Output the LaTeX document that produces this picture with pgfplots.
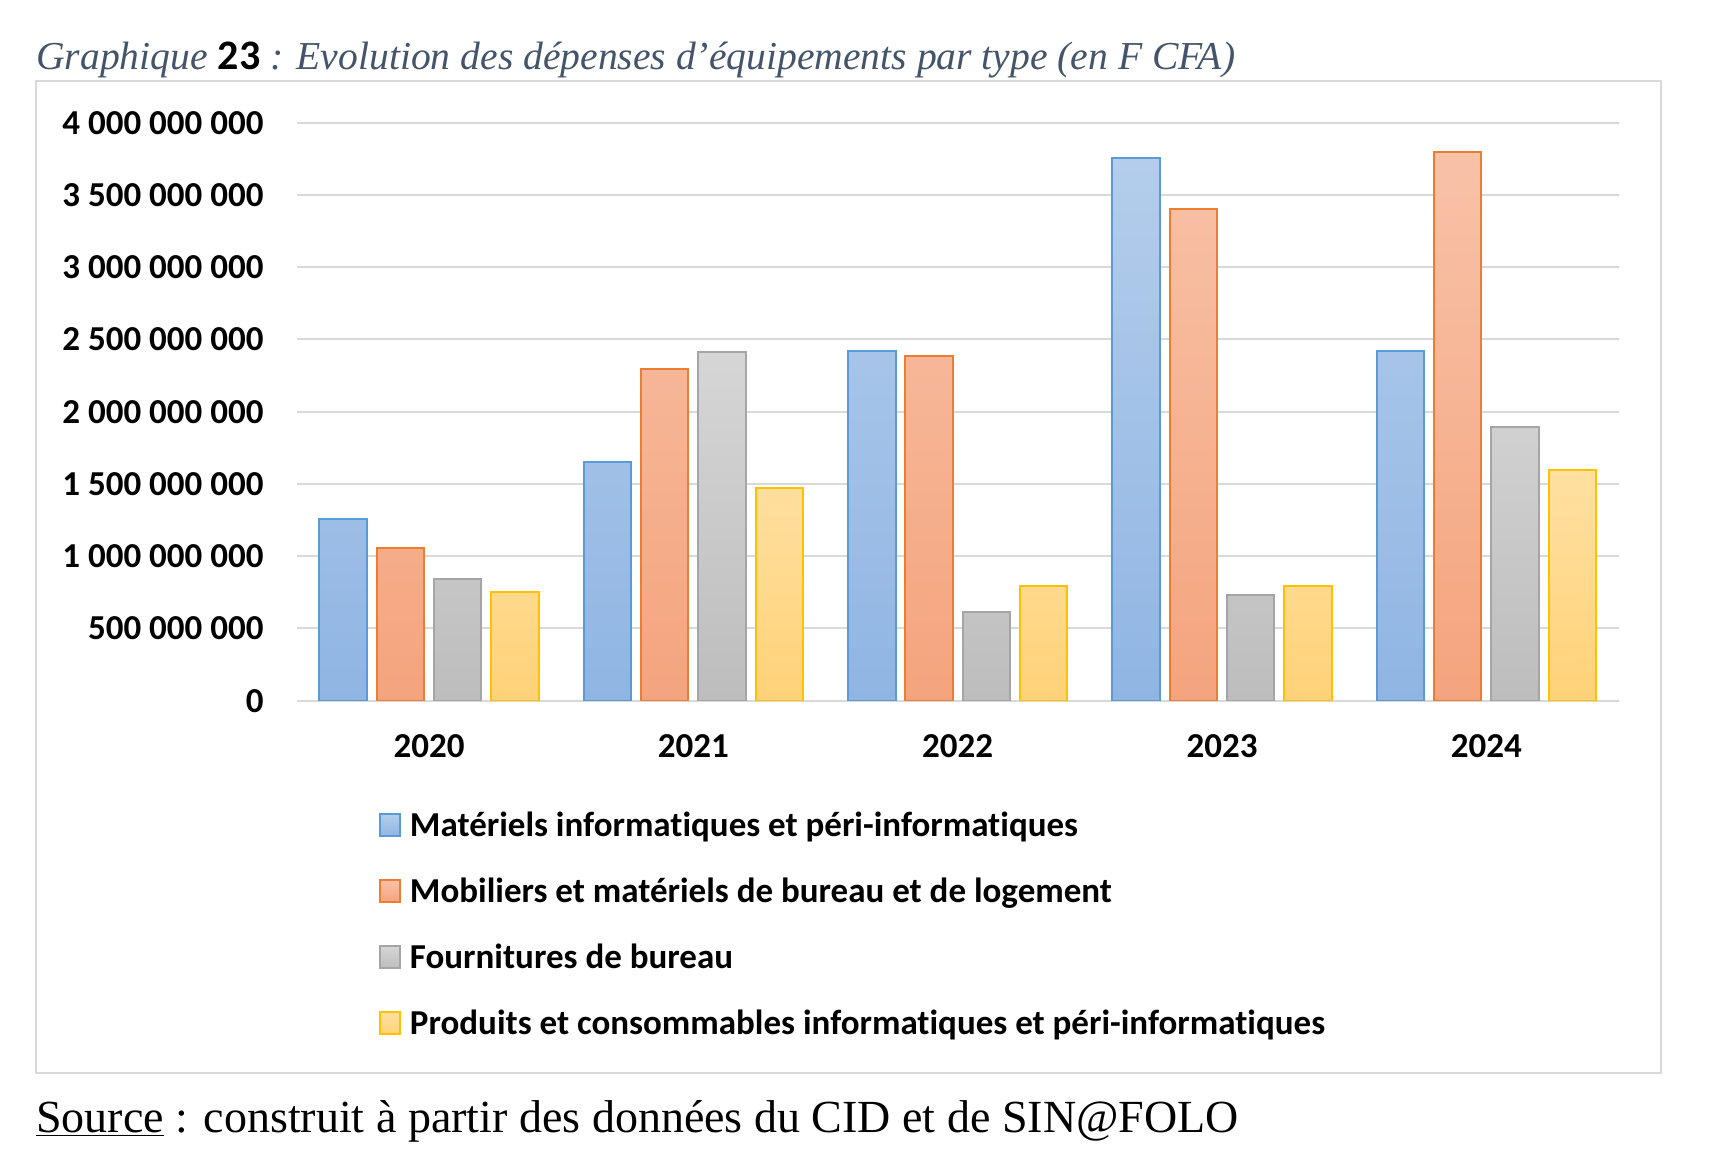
\documentclass[border=0pt]{standalone}
\usepackage{fontspec}
\setmainfont{Liberation Serif}
\newfontfamily\carlito[Ligatures=NoCommon]{Carlito}
\usepackage{pgfplots}
\pgfplotsset{compat=1.18}
\definecolor{gridg}{HTML}{D9D9D9}
\definecolor{titlec}{HTML}{44546A}
\definecolor{bluebd}{HTML}{5B9BD5}\definecolor{bluet}{HTML}{B4CDEB}\definecolor{blueb}{HTML}{90B5E3}
\definecolor{orbd}{HTML}{ED7D31}\definecolor{ort}{HTML}{F8C2A8}\definecolor{orb}{HTML}{F4A47D}
\definecolor{grbd}{HTML}{A5A5A5}\definecolor{grt}{HTML}{D6D6D6}\definecolor{grb}{HTML}{BDBDBD}
\definecolor{yebd}{HTML}{FFC000}\definecolor{yet}{HTML}{FFE0A2}\definecolor{yeb}{HTML}{FFD278}
\begin{document}
\begin{tikzpicture}
\path (0,0) rectangle (862pt,-584pt);
\draw[gridg, line width=1pt] (18.15pt,-40.5pt) rectangle (830.5pt,-536.5pt);
\node[anchor=base west, inner sep=0pt, text=titlec] at (18pt,-34.5pt) {\fontsize{19.8}{24}\selectfont\itshape Graphique {\carlito\bfseries\upshape\color{black}\fontsize{21}{24}\selectfont 23} : Evolution des dépenses d’équipements par type (en F CFA)};
\node[anchor=base west, inner sep=0pt] at (18pt,-566pt) {\fontsize{23}{27}\selectfont\underline{Source} : construit à partir des données du CID et de SIN@FOLO};
\begin{axis}[
  at={(148.45pt,-350.35pt)}, anchor=south west,
  scale only axis, width=660.8pt, height=289pt,
  xmin=-0.5, xmax=4.5, ymin=0, ymax=4e9,
  xtick={0,1,2,3,4}, xticklabels={2020,2021,2022,2023,2024},
  ytick={0,5e8,1e9,1.5e9,2e9,2.5e9,3e9,3.5e9,4e9},
  yticklabels={0,500 000 000,1 000 000 000,1 500 000 000,2 000 000 000,2 500 000 000,3 000 000 000,3 500 000 000,4 000 000 000},
  scaled y ticks=false,
  axis line style={draw=none},
  major tick length=0pt,
  ymajorgrids, grid style={gridg, line width=1pt},
  ticklabel style={font=\carlito\bfseries\fontsize{17.5}{21}\selectfont, inner sep=0pt},
  yticklabel style={anchor=east, xshift=-16.5pt},
  xticklabel style={anchor=base, yshift=-28.5pt},
  ybar=4.9pt, bar width=23.75pt,
  legend cell align=left,
  legend style={at={(axis description cs:0.0621,-0.1822)}, anchor=north west, draw=none, fill=none, inner sep=0pt, outer sep=0pt,
    font=\carlito\bfseries\fontsize{17.5}{21}\selectfont, row sep=14pt, column sep=4.5pt,
    nodes={inner sep=0pt, text height=15pt, text depth=4pt}},
  legend image code/.code={\draw[#1] (0pt,-5.5pt) rectangle (10pt,5.5pt);},
]
\addplot[draw=bluebd, line width=1pt, top color=bluet, bottom color=blueb] coordinates {(0,1255e6) (1,1655e6) (2,2420e6) (3,3755e6) (4,2420e6)};
\addplot[draw=orbd, line width=1pt, top color=ort, bottom color=orb] coordinates {(0,1055e6) (1,2295e6) (2,2385e6) (3,3400e6) (4,3800e6)};
\addplot[draw=grbd, line width=1pt, top color=grt, bottom color=grb] coordinates {(0,845e6) (1,2415e6) (2,617e6) (3,730e6) (4,1895e6)};
\addplot[draw=yebd, line width=1pt, top color=yet, bottom color=yeb] coordinates {(0,755e6) (1,1470e6) (2,797e6) (3,797e6) (4,1600e6)};
\legend{Matériels informatiques et péri-informatiques, Mobiliers et matériels de bureau et de logement, Fournitures de bureau, Produits et consommables informatiques et péri-informatiques}
\end{axis}
\end{tikzpicture}
\end{document}
